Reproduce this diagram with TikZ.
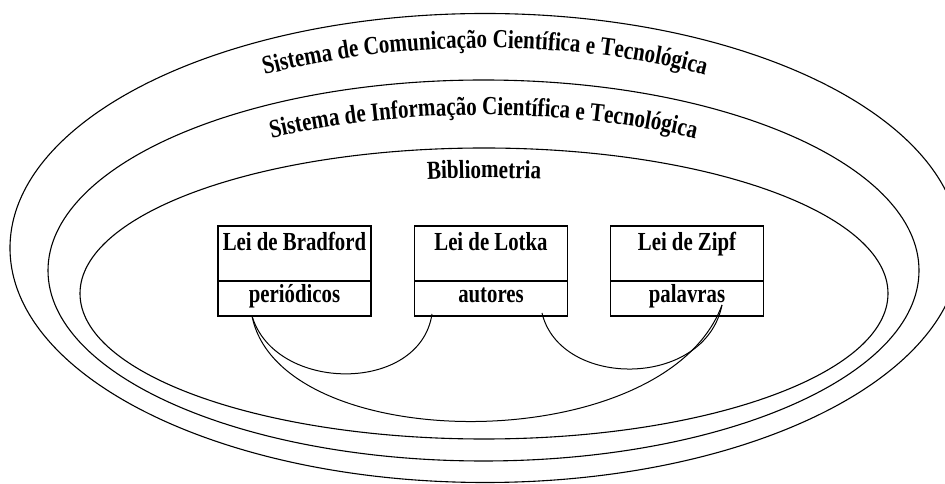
\documentclass[tikz,border=0pt]{standalone}
\usepackage{fontspec}
\setmainfont{Liberation Serif}
\newfontfamily\arcfamily[FakeStretch=0.81]{Liberation Serif}
\newfontfamily\boxfamily[FakeStretch=0.8]{Liberation Serif}
\usetikzlibrary{decorations.text,calc}
\newcommand\arcfmt{\arcfamily\bfseries\fontsize{26}{28}\selectfont}
\begin{document}
\begin{tikzpicture}[x=1pt,y=1pt,
  ell/.style={draw, line width=1.1pt},
  part/.style={draw, line width=1.1pt, minimum width=153pt, inner sep=0pt, outer sep=0pt, font=\boxfamily\bfseries\fontsize{26}{28}\selectfont},
  toppart/.style={part, text height=25pt, text depth=30pt},
  botpart/.style={part, text height=22pt, text depth=13pt},
  link/.style={draw, line width=1pt},
  arctext/.style={decorate, decoration={text along path, text align=center, text={#1}}}]
\useasboundingbox (0,0) rectangle (945,484);
\clip (0,0) rectangle (945,484);
% ellipses
\draw[ell] (485,236) ellipse [x radius=475, y radius=234.5];
\draw[ell] (483.5,213.5) ellipse [x radius=435.5, y radius=190.5];
\draw[ell] (484,190.5) ellipse [x radius=404, y radius=145.5];
% curved titles
\path[arctext={|\arcfmt|Sistema de Comunicação Científica e Tecnológica}]
  ($(485,235.5)+(170:440 and 200.5)$) arc[start angle=170, end angle=10, x radius=440, y radius=200.5];
\path[arctext={|\arcfmt|Sistema de Informação Científica e Tecnológica}]
  ($(483.5,213.5)+(170:400.5 and 155.5)$) arc[start angle=170, end angle=10, x radius=400.5, y radius=155.5];
\path[arctext={|\arcfmt|Bibliometria}]
  ($(484,190.5)+(150:374 and 115.5)$) arc[start angle=150, end angle=30, x radius=374, y radius=115.5];
% boxes
\node[toppart] (brad) at (294.5,230.5) {Lei de Bradford};
\node[botpart, anchor=north] (per) at (brad.south) {periódicos};
\node[toppart] (lotka) at (491,230.5) {Lei de Lotka};
\node[botpart, anchor=north] (aut) at (lotka.south) {autores};
\node[toppart] (zipf) at (687,230.5) {Lei de Zipf};
\node[botpart, anchor=north] (pal) at (zipf.south) {palavras};
% connectors
\draw[link] ([xshift=-42.5pt]per.south) .. controls +(23,-77) and +(-12,-80) .. ([shift={(-59pt,2pt)}]aut.south);
\draw[link] ([shift={(51pt,3pt)}]aut.south) .. controls +(18,-76) and +(-17,-84) .. ([shift={(35pt,11pt)}]pal.south);
\draw[link] ([xshift=-42.5pt]per.south) .. controls +(28,-142) and +(-57,-154) .. ([shift={(35pt,11pt)}]pal.south);
\end{tikzpicture}
\end{document}
